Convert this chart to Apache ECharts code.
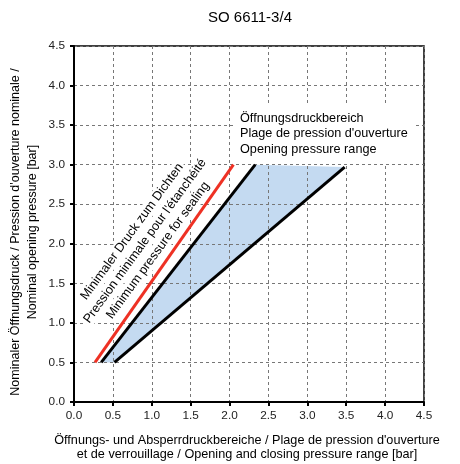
<!DOCTYPE html>
<html>
<head>
<meta charset="utf-8">
<script src="https://cdn.jsdelivr.net/npm/echarts@6/dist/echarts.min.js"></script>
<style>
html,body{margin:0;padding:0;background:#fff;}
#chart{width:460px;height:464px;}
</style>
</head>
<body>
<div id="chart"></div>
<script>
// ---- data ----
const chartTitle = 'SO 6611-3/4';
const xTickLabels = ['0.0','0.5','1.0','1.5','2.0','2.5','3.0','3.5','4.0','4.5'];
const yTickLabels = ['0.0','0.5','1.0','1.5','2.0','2.5','3.0','3.5','4.0','4.5'];
// minimum sealing pressure line (red)
const sealingX = [0.27, 2.05];
const sealingY = [0.50, 3.00];
// opening pressure range: left boundary (black)
const rangeLeftX = [0.35, 2.33];
const rangeLeftY = [0.50, 3.00];
// opening pressure range: right boundary (black)
const rangeRightX = [0.52, 3.48];
const rangeRightY = [0.50, 2.97];

const sealingLabel = ['Minimaler Druck zum Dichten', "Pression minimale pour l'étanchéité", 'Minimum pressure for sealing'];
const rangeLabel = ['Öffnungsdruckbereich', "Plage de pression d'ouverture", 'Opening pressure range'];
const xTitle = ["Öffnungs- und Absperrdruckbereiche / Plage de pression d'ouverture", 'et de verrouillage / Opening and closing pressure range [bar]'];
const yTitle = ["Nominaler Öffnungsdruck / Pression d'ouverture nominale /", 'Nominal opening pressure [bar]'];

const pairs = (xs, ys) => xs.map((x, i) => [x, ys[i]]);
const FONT = 'Liberation Sans, Arial, sans-serif';
const FS = 12.67;

const chart = echarts.init(document.getElementById('chart'), null, {renderer: 'canvas'});

// rotated sealing label: one box per line, centred along the red line direction
const ang = 54 * Math.PI / 180;
const perp = [Math.sin(ang), Math.cos(ang)];
const sealCenter = [145, 241];
const sealGraphics = sealingLabel.map((t, i) => ({
  type: 'text',
  x: sealCenter[0] + (i - 1) * 16 * perp[0],
  y: sealCenter[1] + (i - 1) * 16 * perp[1],
  rotation: ang, z: 1,
  style: {text: t, fontSize: FS, fontFamily: FONT, fill: '#000', align: 'center', verticalAlign: 'middle',
    backgroundColor: '#fff', padding: [1, 2]}
}));

const option = {
  backgroundColor: '#fff',
  animation: false,
  textStyle: {fontFamily: FONT},
  grid: {left: 74, right: 36, top: 46, bottom: 62, show: true, borderColor: '#000', borderWidth: 1.5, backgroundColor: 'transparent'},
  xAxis: {
    type: 'value', min: 0, max: 4.5, interval: 0.5,
    axisLine: {show: true, onZero: false, lineStyle: {color: '#000', width: 2}},
    axisTick: {show: true, inside: false, length: 4, lineStyle: {color: '#000', width: 2}},
    axisLabel: {margin: 8, color: '#222', fontSize: 11.8, fontFamily: FONT,
      formatter: (v) => xTickLabels[Math.round(v / 0.5)]},
    splitLine: {show: true, lineStyle: {color: '#777', width: 1, type: [3, 3]}}
  },
  yAxis: {
    type: 'value', min: 0, max: 4.5, interval: 0.5,
    axisLine: {show: true, onZero: false, lineStyle: {color: '#000', width: 2}},
    axisTick: {show: true, inside: false, length: 4, lineStyle: {color: '#000', width: 2}},
    axisLabel: {margin: 9, color: '#222', fontSize: 11.8, fontFamily: FONT,
      formatter: (v) => yTickLabels[Math.round(v / 0.5)]},
    splitLine: {show: true, lineStyle: {color: '#777', width: 1, type: [3, 3]}}
  },
  series: [
    {
      type: 'custom',
      z: -1,
      silent: true,
      data: [0],
      renderItem: function (params, api) {
        const pts = [
          api.coord([rangeLeftX[0], rangeLeftY[0]]),
          api.coord([rangeRightX[0], rangeRightY[0]]),
          api.coord([rangeRightX[1], rangeRightY[1]]),
          api.coord([rangeLeftX[1], rangeLeftY[1]])
        ];
        return {type: 'polygon', shape: {points: pts}, style: {fill: '#c4daf1'}};
      }
    },
    {
      type: 'line', data: pairs(sealingX, sealingY), symbol: 'none',
      lineStyle: {color: '#ee3124', width: 3, cap: 'butt'}
    },
    {
      type: 'line', data: pairs(rangeLeftX, rangeLeftY), symbol: 'none',
      lineStyle: {color: '#000', width: 3, cap: 'butt'}
    },
    {
      type: 'line', data: pairs(rangeRightX, rangeRightY), symbol: 'none',
      lineStyle: {color: '#000', width: 3, cap: 'butt'}
    }
  ],
  graphic: [
    {type: 'text', x: 250, y: 18, z: 10,
      style: {text: chartTitle, fontSize: 15, fontFamily: FONT, fill: '#000', align: 'center', verticalAlign: 'middle'}},
    ...sealGraphics,
    {type: 'text', x: 234, y: 134, z: 1,
      style: {text: rangeLabel.join('\n'), fontSize: FS, lineHeight: 15.5, fontFamily: FONT, fill: '#000',
        align: 'left', verticalAlign: 'middle', backgroundColor: '#fff', padding: [6, 6, 6, 6]}},
    {type: 'text', x: 247, y: 448, z: 10,
      style: {text: xTitle.join('\n'), fontSize: FS, lineHeight: 14, fontFamily: FONT, fill: '#000',
        align: 'center', verticalAlign: 'middle'}},
    {type: 'text', x: 24, y: 232, rotation: Math.PI / 2, z: 10,
      style: {text: yTitle.join('\n'), fontSize: 12.5, lineHeight: 17, fontFamily: FONT, fill: '#000',
        align: 'center', verticalAlign: 'middle'}}
  ]
};
chart.setOption(option);
</script>
</body>
</html>
